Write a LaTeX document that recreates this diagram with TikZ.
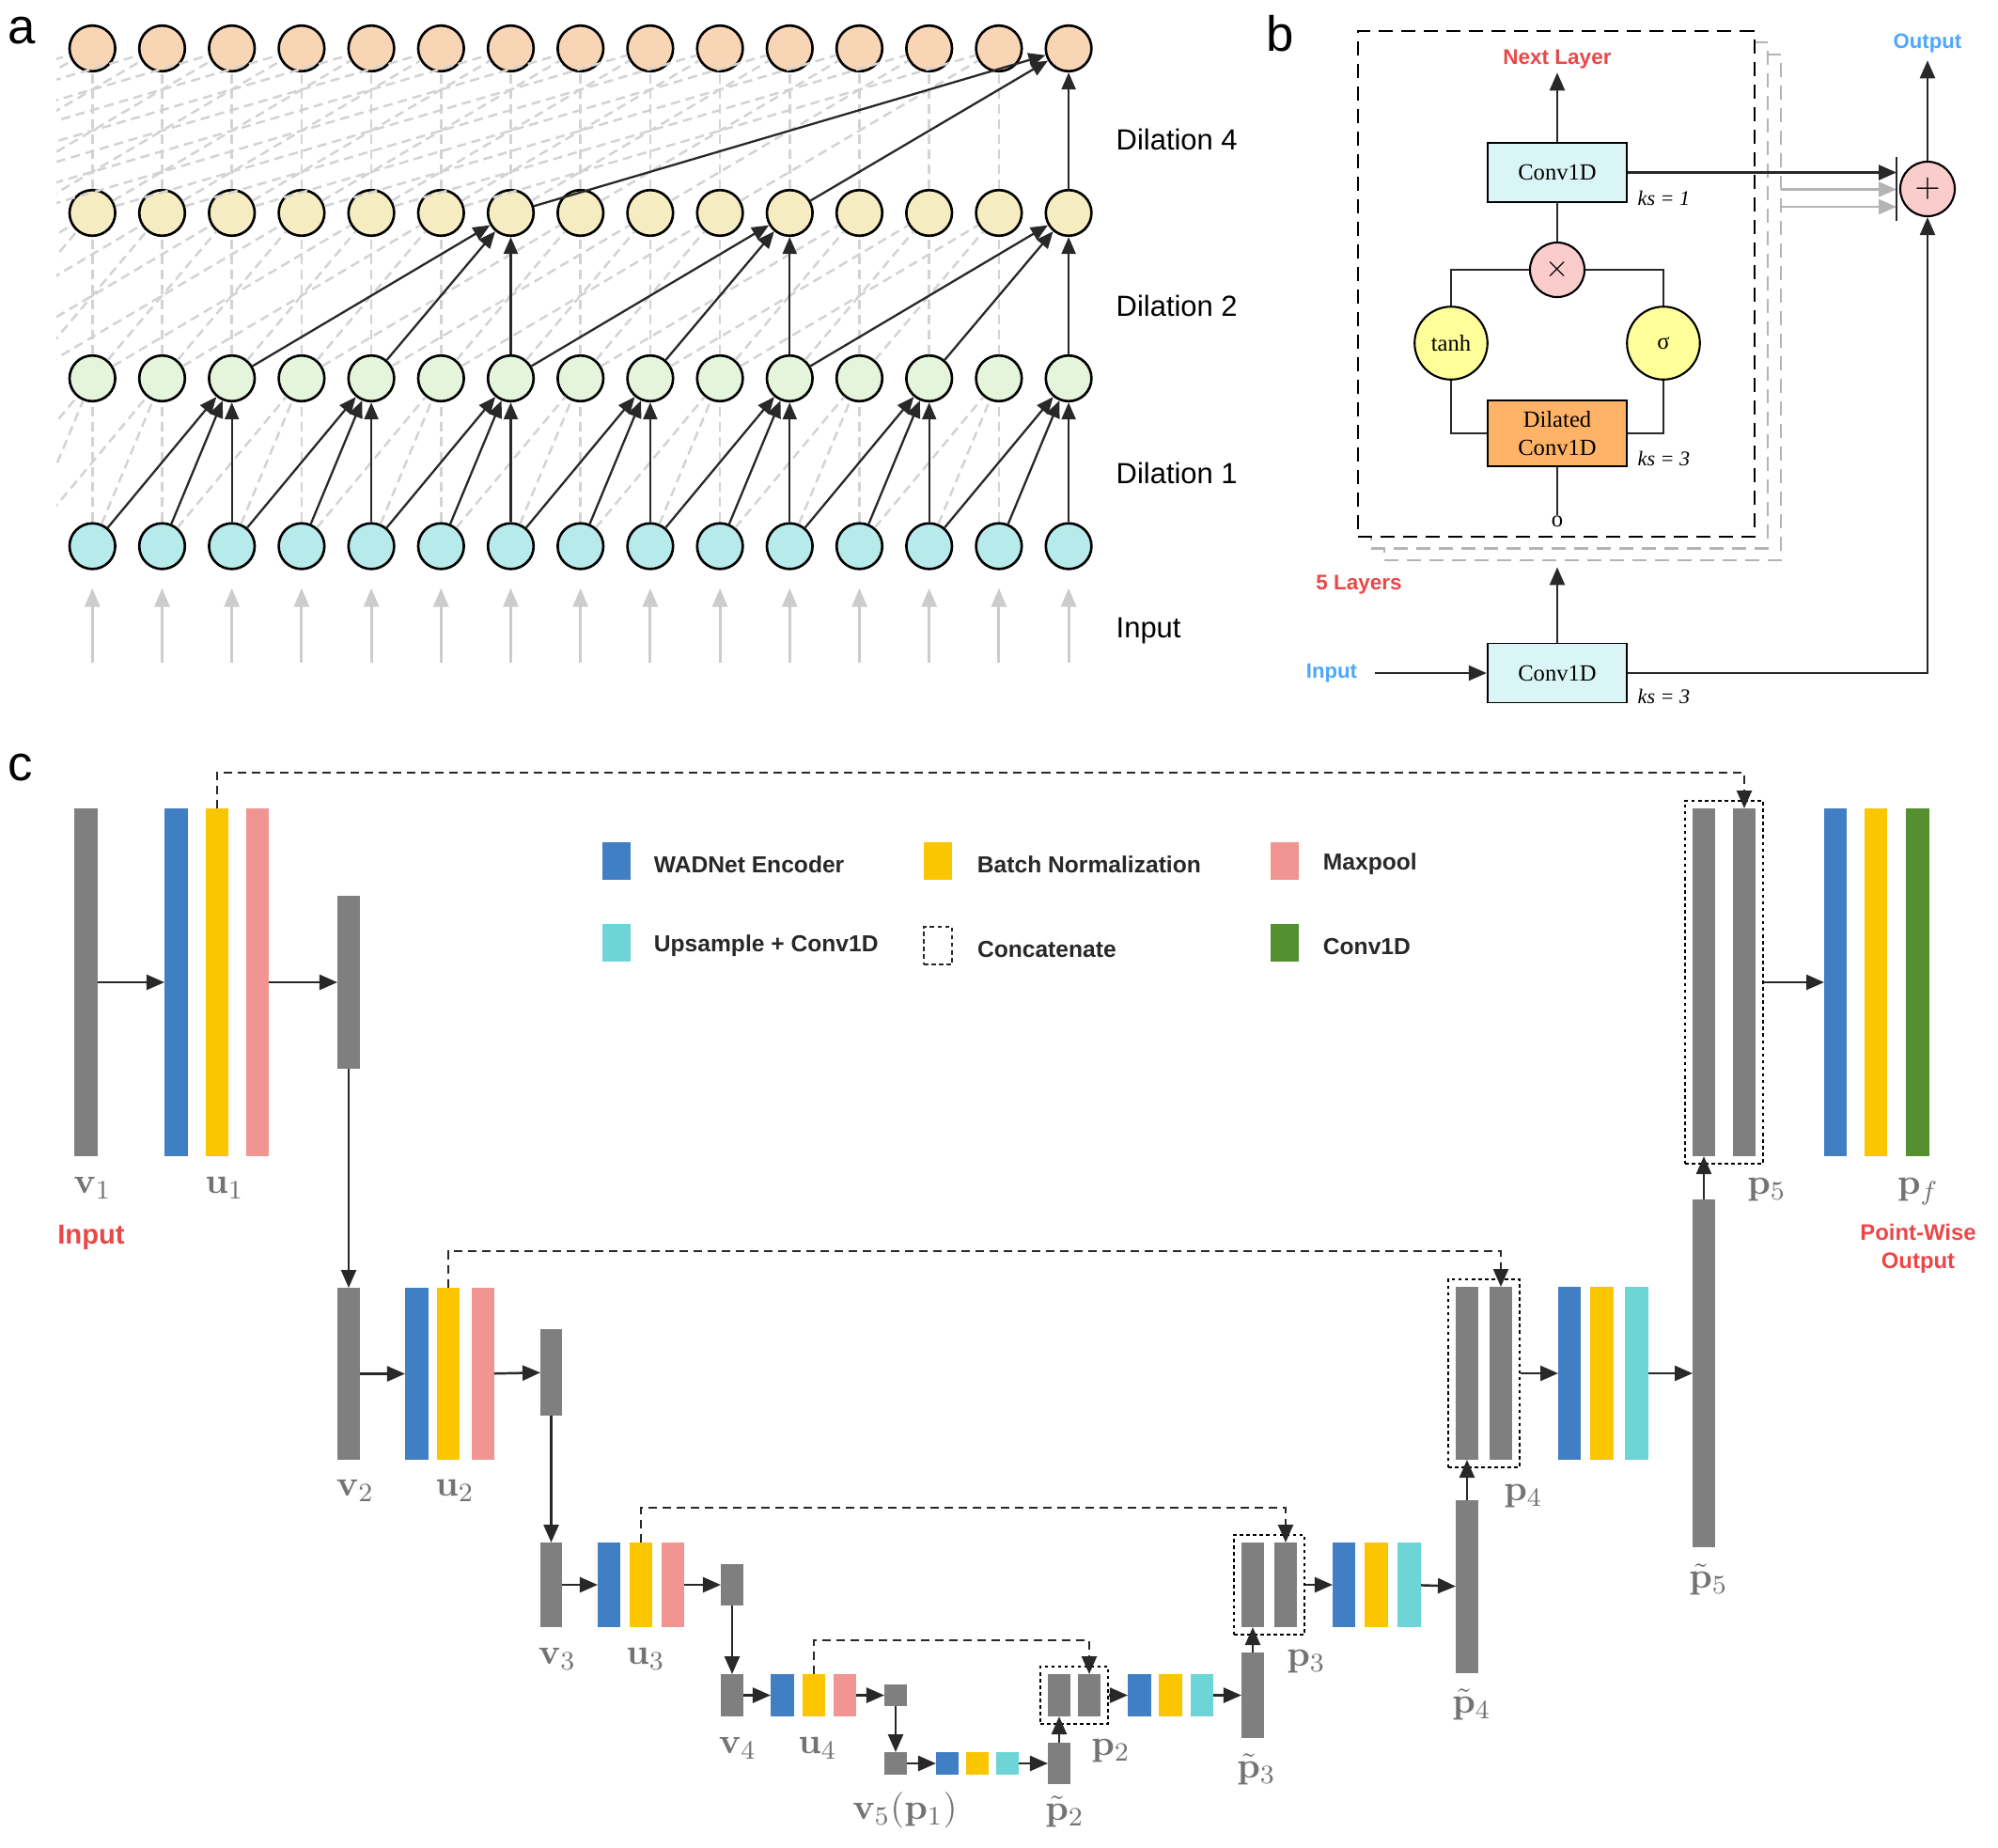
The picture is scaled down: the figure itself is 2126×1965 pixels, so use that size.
\documentclass[tikz,border=0pt]{standalone}
\usepackage[no-math]{fontspec}
\usepackage{tikz}
\usetikzlibrary{arrows.meta, positioning, fit}
\usepackage{xcolor}
\usepackage{amsmath,amssymb}

\newfontfamily\arialfam{Liberation Sans}
\newfontfamily\timesfam{Liberation Serif}

\definecolor{ink}{RGB}{40,40,40}
\definecolor{faintgray}{RGB}{211,211,211}
\definecolor{feedgray}{RGB}{204,204,204}
\definecolor{acyan}{RGB}{183,234,234}
\definecolor{agreen}{RGB}{228,245,219}
\definecolor{ayellow}{RGB}{245,237,193}
\definecolor{aorange}{RGB}{248,213,181}
\definecolor{convfill}{RGB}{218,245,245}
\definecolor{dilfill}{RGB}{255,179,102}
\definecolor{pinkfill}{RGB}{250,204,204}
\definecolor{actfill}{RGB}{255,255,153}
\definecolor{boxgray}{RGB}{180,180,180}
\definecolor{hotred}{RGB}{234,72,72}
\definecolor{skyblue}{RGB}{77,166,255}
\definecolor{bargray}{RGB}{127,127,127}
\definecolor{encblue}{RGB}{64,127,196}
\definecolor{bnyellow}{RGB}{251,197,0}
\definecolor{poolpink}{RGB}{240,149,146}
\definecolor{upcyan}{RGB}{109,213,214}
\definecolor{outgreen}{RGB}{84,143,48}
\definecolor{labgray}{RGB}{115,115,115}

\begin{document}
\begin{tikzpicture}[
    x=0.01cm, y=-0.01cm,
    >={Triangle[length=0.19cm,width=0.16cm]},
    panel/.style={font=\arialfam\fontsize{15}{17}\selectfont, inner sep=0pt},
    unit/.style={circle, draw=black, line width=0.75pt, minimum size=0.486cm, inner sep=0pt},
    faint/.style={draw=faintgray, line width=0.7pt, dash pattern=on 0.1cm off 0.06cm},
    tap/.style={-{Triangle[length=0.18cm,width=0.15cm]}, draw=ink, line width=0.65pt},
    feed/.style={->, draw=feedgray, line width=0.9pt, shorten >=0.19cm,
                 >={Triangle[length=0.2cm,width=0.16cm]}},
    dilab/.style={anchor=west, inner sep=0pt, font=\arialfam\fontsize{8.8}{10}\selectfont},
    conv/.style={rectangle, draw=black, line width=0.5pt, fill=convfill,
                 minimum width=1.485cm, minimum height=0.63cm, align=center,
                 font=\timesfam\fontsize{7}{8.4}\selectfont},
    gate/.style={circle, draw=black, line width=0.6pt, inner sep=0pt,
                 font=\timesfam\fontsize{7}{8}\selectfont},
    layerbox/.style={rectangle, fill=white, line width=0.8pt, inner sep=0pt,
                     dash pattern=on 0.15cm off 0.09cm},
    wire/.style={draw=ink, line width=0.75pt},
    flow/.style={->, draw=ink, line width=0.7pt},
    ghost/.style={->, draw=boxgray, line width=0.6pt},
    kslab/.style={anchor=west, inner sep=0pt, font=\timesfam\itshape\fontsize{6.3}{7}\selectfont},
    redlab/.style={text=hotred, inner sep=1pt, font=\arialfam\bfseries\fontsize{6.4}{7.5}\selectfont},
    bluelab/.style={text=skyblue, inner sep=1pt, font=\arialfam\bfseries\fontsize{6.3}{7.5}\selectfont},
    bar/.style={rectangle, draw=none, inner sep=0pt, outer sep=0pt},
    catbox/.style={rectangle, draw=black, line width=0.5pt, inner sep=0.08cm,
                   dash pattern=on 1pt off 1pt},
    skip/.style={->, draw=ink, line width=0.7pt, dash pattern=on 0.09cm off 0.06cm},
    lbl/.style={text=labgray, anchor=mid, inner sep=0pt, font=\fontsize{11}{13}\selectfont},
    swatch/.style={rectangle, draw=none, inner sep=0pt},
    legtext/.style={anchor=west, inner sep=0pt, text=ink, yshift=-0.035cm,
                    font=\arialfam\bfseries\fontsize{7}{8}\selectfont}
]
\useasboundingbox (0,0) rectangle (2126,1965);

% ---------------- panel a: dilated causal convolutions ----------------
\node[panel] (pa) at (23,33) {a};

\foreach \i in {0,...,14} {
  \node[unit, fill=acyan]   (in\i) at ({98.3+74.2*\i},581) {};
  \node[unit, fill=agreen]  (da\i) at ({98.3+74.2*\i},402.5) {};
  \node[unit, fill=ayellow] (db\i) at ({98.3+74.2*\i},226.5) {};
  \node[unit, fill=aorange] (dc\i) at ({98.3+74.2*\i},51.5) {};
  \coordinate (src\i) at ({98.3+74.2*\i},705);
}
% taps that come from outside the picture
\foreach \i in {-8,...,-1} {
  \coordinate (in\i) at ({98.3+74.2*(\i)},581);
  \coordinate (da\i) at ({98.3+74.2*(\i)},402.5);
  \coordinate (db\i) at ({98.3+74.2*(\i)},226.5);
}

% grey taps
\begin{scope}
  \clip (60,0) rectangle (1200,720);
  \foreach \d/\srow/\trow in {1/in/da,2/da/db,4/db/dc} {
    \foreach \i in {0,...,14} {
      \pgfmathtruncatemacro{\ja}{\i-\d}
      \pgfmathtruncatemacro{\jb}{\i-2*\d}
      \pgfmathtruncatemacro{\hot}{and(mod(14-\i,2*\d)==0, \i>=2*\d)}
      \ifnum\hot=0
        \draw[faint] (\srow\i) -- (\trow\i);
        \draw[faint] (\srow\ja) -- (\trow\i);
        \draw[faint] (\srow\jb) -- (\trow\i);
      \fi
    }
  }
\end{scope}

% receptive field of the last output
\foreach \d/\srow/\trow in {1/in/da,2/da/db,4/db/dc} {
  \foreach \i in {0,...,14} {
    \pgfmathtruncatemacro{\ja}{\i-\d}
    \pgfmathtruncatemacro{\jb}{\i-2*\d}
    \pgfmathtruncatemacro{\hot}{and(mod(14-\i,2*\d)==0, \i>=2*\d)}
    \ifnum\hot=1
      \draw[tap] (\srow\i) -- (\trow\i);
      \draw[tap] (\srow\ja) -- (\trow\i);
      \draw[tap] (\srow\jb) -- (\trow\i);
    \fi
  }
}

% input arrows
\foreach \i in {0,...,14} {
  \draw[feed] (src\i) -- (in\i);
}

\node[dilab] (l4) at (1187,148) {Dilation 4};
\node[dilab] (l2) at (1187,325) {Dilation 2};
\node[dilab] (l1) at (1187,503) {Dilation 1};
\node[dilab] (l0) at (1187,671) {Input};

% ---------------- panel b: residual block ----------------
\node[panel] (pb) at (1362,36) {b};

\node[layerbox, draw=boxgray, fit={(1473,58) (1895,596)}] (lay3) {};
\node[layerbox, draw=boxgray, fit={(1459,45) (1881,583.5)}] (lay2) {};
\node[layerbox, draw=black, fit={(1445,33) (1867,571)}] (lay1) {};

\node[redlab] (nxt) at (1657,63) {Next Layer};
\node[conv] (cv1) at (1657,183.5) {Conv1D};
\node[gate, fill=pinkfill, minimum size=0.58cm, font=\fontsize{9}{9}\selectfont] (mul) at (1657,287) {$\times$};
\node[gate, fill=actfill, minimum size=0.775cm] (tanh) at (1544,365) {tanh};
\node[gate, fill=actfill, minimum size=0.775cm] (sig) at (1770,365) {σ};
\node[conv, fill=dilfill] (dil) at (1657,461) {Dilated\\Conv1D};
\node[inner sep=0pt, font=\timesfam\fontsize{7}{8}\selectfont] (zero) at (1657,555) {o};
\node[conv] (cv0) at (1657,716) {Conv1D};

\node[kslab] (ks1) at (1742,211) {ks = 1};
\node[kslab] (ks2) at (1742,488) {ks = 3};
\node[kslab] (ks3) at (1742,741) {ks = 3};

\node[redlab] (five) at (1446,622) {5 Layers};
\node[bluelab] (inb) at (1417,716) {Input};
\node[bluelab] (outb) at (2051,46) {Output};

\node[gate, fill=pinkfill, minimum size=0.58cm, font=\fontsize{10}{10}\selectfont] (plus) at (2051,201) {$+$};
\coordinate (bt) at (2018,167);
\coordinate (bb) at (2018,235);
\coordinate (g1) at (1895,201.5);
\coordinate (g2) at (1895,220);

\draw[flow] (cv1) -- (nxt);
\draw[wire] (cv1) -- (mul);
\draw[wire] (mul) -| (tanh);
\draw[wire] (mul) -| (sig);
\draw[wire] (tanh) |- (dil);
\draw[wire] (sig) |- (dil);
\draw[wire] (dil) -- (zero);

\draw[flow, shorten <=0.15cm] (inb) -- (cv0);
\draw[flow, shorten >=0.06cm] (cv0) -- (cv0 |- lay3.south);
\draw[flow] (cv0) -| (plus);
\draw[ghost] (g1) -- (g1 -| bt);
\draw[ghost] (g2) -- (g2 -| bt);
\draw[flow] (cv1) -- (cv1 -| bt);
\draw[draw=ink, line width=0.8pt] (bt) -- (bb);
\draw[flow, shorten >=0.04cm] (plus) -- (outb);

% ---------------- panel c: U-shaped network ----------------
\node[panel] (pc) at (22,817) {c};

% level 1
\node[bar, fill=bargray,  fit={(79,860) (104,1230)}]  (v1) {};
\node[bar, fill=encblue,  fit={(175,860) (200,1230)}] (u1b) {};
\node[bar, fill=bnyellow, fit={(219,860) (243,1230)}] (u1y) {};
\node[bar, fill=poolpink, fit={(262,860) (286,1230)}] (u1p) {};
\node[bar, fill=bargray,  fit={(359,953) (383,1137)}] (m1) {};
% level 2
\node[bar, fill=bargray,  fit={(359,1370) (383,1553)}] (v2) {};
\node[bar, fill=encblue,  fit={(431,1370) (456,1553)}] (u2b) {};
\node[bar, fill=bnyellow, fit={(465,1370) (489,1553)}] (u2y) {};
\node[bar, fill=poolpink, fit={(502,1370) (526,1553)}] (u2p) {};
\node[bar, fill=bargray,  fit={(575,1414) (598,1506)}] (m2) {};
% level 3
\node[bar, fill=bargray,  fit={(575,1641) (598,1731)}] (v3) {};
\node[bar, fill=encblue,  fit={(636,1641) (660,1731)}] (u3b) {};
\node[bar, fill=bnyellow, fit={(670,1641) (694,1731)}] (u3y) {};
\node[bar, fill=poolpink, fit={(704,1641) (728,1731)}] (u3p) {};
\node[bar, fill=bargray,  fit={(767,1664) (791,1708)}] (m3) {};
% level 4
\node[bar, fill=bargray,  fit={(767,1781) (791,1826)}] (v4) {};
\node[bar, fill=encblue,  fit={(820,1781) (845,1826)}] (u4b) {};
\node[bar, fill=bnyellow, fit={(854,1781) (878,1826)}] (u4y) {};
\node[bar, fill=poolpink, fit={(887,1781) (911,1826)}] (u4p) {};
\node[bar, fill=bargray,  fit={(941,1792) (965,1815)}] (m4) {};
% bottleneck
\node[bar, fill=bargray,  fit={(941,1864) (965,1888)}]   (v5) {};
\node[bar, fill=encblue,  fit={(996,1864) (1020,1888)}]  (d5b) {};
\node[bar, fill=bnyellow, fit={(1028,1864) (1052,1888)}] (d5y) {};
\node[bar, fill=upcyan,   fit={(1060,1864) (1084,1888)}] (d5c) {};
\node[bar, fill=bargray,  fit={(1115,1854) (1139,1898)}] (pt2) {};
% decoder 2
\node[bar, fill=bargray,  fit={(1115,1781) (1139,1826)}] (p2l) {};
\node[bar, fill=bargray,  fit={(1147,1781) (1171,1826)}] (p2r) {};
\node[catbox, fit=(p2l) (p2r)] (cat2) {};
\node[bar, fill=encblue,  fit={(1200,1781) (1225,1826)}] (e2b) {};
\node[bar, fill=bnyellow, fit={(1233,1781) (1258,1826)}] (e2y) {};
\node[bar, fill=upcyan,   fit={(1267,1781) (1291,1826)}] (e2c) {};
\node[bar, fill=bargray,  fit={(1321,1758) (1345,1849)}] (pt3) {};
% decoder 3
\node[bar, fill=bargray,  fit={(1321,1641) (1345,1731)}] (p3l) {};
\node[bar, fill=bargray,  fit={(1356,1641) (1380,1731)}] (p3r) {};
\node[catbox, fit=(p3l) (p3r)] (cat3) {};
\node[bar, fill=encblue,  fit={(1418,1641) (1442,1731)}] (e3b) {};
\node[bar, fill=bnyellow, fit={(1452,1641) (1477,1731)}] (e3y) {};
\node[bar, fill=upcyan,   fit={(1487,1641) (1512,1731)}] (e3c) {};
\node[bar, fill=bargray,  fit={(1549,1596) (1573,1780)}] (pt4) {};
% decoder 4
\node[bar, fill=bargray,  fit={(1549,1369) (1573,1553)}] (p4l) {};
\node[bar, fill=bargray,  fit={(1585,1369) (1609,1553)}] (p4r) {};
\node[catbox, fit=(p4l) (p4r)] (cat4) {};
\node[bar, fill=encblue,  fit={(1658,1369) (1682,1553)}] (e4b) {};
\node[bar, fill=bnyellow, fit={(1692,1369) (1717,1553)}] (e4y) {};
\node[bar, fill=upcyan,   fit={(1729,1369) (1754,1553)}] (e4c) {};
\node[bar, fill=bargray,  fit={(1801,1276) (1825,1646)}] (pt5) {};
% decoder 5 and output head
\node[bar, fill=bargray,  fit={(1801,860) (1825,1230)}]  (p5l) {};
\node[bar, fill=bargray,  fit={(1844,860) (1868,1230)}]  (p5r) {};
\node[catbox, fit=(p5l) (p5r)] (cat5) {};
\node[bar, fill=encblue,  fit={(1941,860) (1965,1230)}]  (fb) {};
\node[bar, fill=bnyellow, fit={(1984,860) (2008,1230)}]  (fy) {};
\node[bar, fill=outgreen, fit={(2028,860) (2053,1230)}]  (fg) {};

% forward path
\draw[flow] (v1) -- (u1b);
\draw[flow] (u1p) -- (m1);
\draw[flow] (m1) -- (v2);
\draw[flow] (v2) -- (u2b);
\draw[flow] (u2p) -- (m2);
\draw[flow] (m2) -- (v3);
\draw[flow] (v3) -- (u3b);
\draw[flow] (u3p) -- (m3);
\draw[flow] (m3) -- (v4);
\draw[flow] (v4) -- (u4b);
\draw[flow] (u4p) -- (m4);
\draw[flow] (m4) -- (v5);
\draw[flow] (v5) -- (d5b);
\draw[flow] (d5c) -- (pt2);
\draw[flow] (pt2) -- (p2l);
\draw[flow] (cat2) -- (e2b);
\draw[flow] (e2c) -- (pt3);
\draw[flow] (pt3) -- (p3l);
\draw[flow] (cat3) -- (e3b);
\draw[flow] (e3c) -- (pt4);
\draw[flow] (pt4) -- (p4l);
\draw[flow] (cat4) -- (e4b);
\draw[flow] (e4c) -- (pt5);
\draw[flow] (pt5) -- (p5l);
\draw[flow] (cat5) -- (fb);

% skip connections
\draw[skip] (u1y.north) -- ++(0,-38) -| (p5r.north);
\draw[skip] (u2y.north) -- ++(0,-39) -| (p4r.north);
\draw[skip] (u3y.north) -- ++(0,-37) -| (p3r.north);
\draw[skip] (u4y.north) -- ++(0,-36) -| (p2r.north);

% labels
\node[lbl] (lv1) at (98.5,1262) {$\mathbf{v}_1$};
\node[lbl] (lu1) at (239,1262) {$\mathbf{u}_1$};
\node[lbl] (lv2) at (378,1584) {$\mathbf{v}_2$};
\node[lbl] (lu2) at (484,1584) {$\mathbf{u}_2$};
\node[lbl] (lv3) at (593,1763) {$\mathbf{v}_3$};
\node[lbl] (lu3) at (687,1763) {$\mathbf{u}_3$};
\node[lbl] (lv4) at (785,1858) {$\mathbf{v}_4$};
\node[lbl] (lu4) at (870,1858) {$\mathbf{u}_4$};
\node[lbl] (lv5) at (963,1928) {$\mathbf{v}_5(\mathbf{p}_1)$};
\node[lbl] (lpt2) at (1133,1929) {$\tilde{\mathbf{p}}_2$};
\node[lbl] (lp2) at (1182,1860) {$\mathbf{p}_2$};
\node[lbl] (lpt3) at (1337,1884) {$\tilde{\mathbf{p}}_3$};
\node[lbl] (lp3) at (1390,1765) {$\mathbf{p}_3$};
\node[lbl] (lpt4) at (1566,1815) {$\tilde{\mathbf{p}}_4$};
\node[lbl] (lp4) at (1621,1589) {$\mathbf{p}_4$};
\node[lbl] (lpt5) at (1818,1682) {$\tilde{\mathbf{p}}_5$};
\node[lbl] (lp5) at (1880,1263) {$\mathbf{p}_5$};
\node[lbl] (lpf) at (2041,1263) {$\mathbf{p}_f$};

\node[text=hotred, font=\arialfam\bfseries\fontsize{8.3}{10}\selectfont] (cin) at (97,1316) {Input};
\node[text=hotred, align=center, font=\arialfam\bfseries\fontsize{6.8}{8.5}\selectfont] (cout) at (2041,1328) {Point-Wise\\Output};

% legend
\node[swatch, fill=encblue,  fit={(641,896) (671,936)}]   (kenc) {};
\node[swatch, fill=upcyan,   fit={(641,983) (671,1023)}]  (kup) {};
\node[swatch, fill=bnyellow, fit={(983,896) (1013,936)}]  (kbn) {};
\node[swatch, draw=ink, line width=0.45pt, dash pattern=on 1.3pt off 1pt, fit={(983,986) (1013,1026)}] (kcat) {};
\node[swatch, fill=poolpink, fit={(1352,896) (1382,936)}] (kpool) {};
\node[swatch, fill=outgreen, fit={(1352,983) (1382,1023)}] (kconv) {};

\node[legtext, right=0.235cm of kenc]  (tenc)  {WADNet Encoder};
\node[legtext, right=0.235cm of kup]   (tup)   {Upsample + Conv1D};
\node[legtext, right=0.255cm of kbn]   (tbn)   {Batch Normalization};
\node[legtext, right=0.255cm of kcat]  (tcat)  {Concatenate};
\node[legtext, right=0.245cm of kpool] (tpool) {Maxpool};
\node[legtext, right=0.245cm of kconv] (tconv) {Conv1D};
\end{tikzpicture}
\end{document}
